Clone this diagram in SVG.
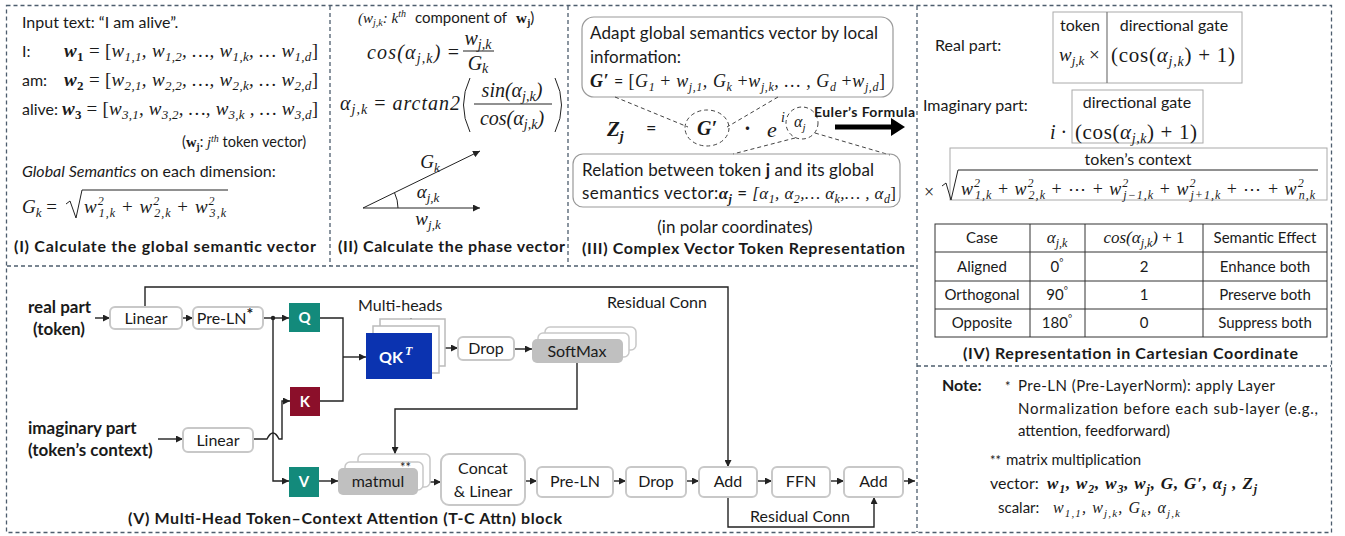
<svg xmlns="http://www.w3.org/2000/svg" width="1345" height="536" viewBox="0 0 1345 536">
<style>
.s{font-family:Lato,"Liberation Sans",sans-serif;fill:#1a1a1a}
.b{font-weight:bold}
.m{font-family:"Liberation Serif",serif;font-style:italic;fill:#1a1a1a}
.up{font-style:normal}
.bx{fill:#fff;stroke:#c8c8c8;stroke-width:2}
.cn{fill:none;stroke:#222;stroke-width:1.4}
.dash{fill:none;stroke:#4d5d6d;stroke-width:1.3;stroke-dasharray:4 3}
.thin{fill:none;stroke:#222;stroke-width:1}
.dd{fill:none;stroke:#444;stroke-width:1;stroke-dasharray:4 3}
.gb{fill:none;stroke:#aaa;stroke-width:1}
.wt{fill:#fff}
</style>
<defs>
<marker id="ah" viewBox="0 0 8 8" refX="8" refY="4" markerWidth="7" markerHeight="7" markerUnits="userSpaceOnUse" orient="auto"><path d="M0,0 L8,4 L0,8 z" fill="#222"/></marker>
</defs>
<rect width="1345" height="536" fill="#fff"/>
<g id="frames">
<rect class="dash" x="6.5" y="5.5" width="1325" height="527"/>
<path class="dash" d="M330,6 V266 M568,6 V266 M917,6 V532 M7,266 H917 M917,366 H1331"/>
</g>

<g id="panel-I">
<text class="s" x="22" y="28" font-size="16">Input text: “I am alive”.</text>
<text class="s" x="22" y="57" font-size="16">I:</text>
<text class="m" x="64" y="57" font-size="19" textLength="254"><tspan class="b">w</tspan><tspan class="b up" font-size="13" dy="4">1</tspan><tspan class="up" dy="-4"> = [</tspan>w<tspan font-size="13" dy="4">1,1</tspan><tspan dy="-4">, w</tspan><tspan font-size="13" dy="4">1,2</tspan><tspan dy="-4">, …, w</tspan><tspan font-size="13" dy="4">1,k</tspan><tspan dy="-4">, … w</tspan><tspan font-size="13" dy="4">1,d</tspan><tspan class="up" dy="-4">]</tspan></text>
<text class="s" x="22" y="86" font-size="16">am:</text>
<text class="m" x="64" y="86" font-size="19" textLength="254"><tspan class="b">w</tspan><tspan class="b up" font-size="13" dy="4">2</tspan><tspan class="up" dy="-4"> = [</tspan>w<tspan font-size="13" dy="4">2,1</tspan><tspan dy="-4">, w</tspan><tspan font-size="13" dy="4">2,2</tspan><tspan dy="-4">, …, w</tspan><tspan font-size="13" dy="4">2,k</tspan><tspan dy="-4">, … w</tspan><tspan font-size="13" dy="4">2,d</tspan><tspan class="up" dy="-4">]</tspan></text>
<text class="s" x="22" y="115" font-size="16">alive:</text>
<text class="m" x="62" y="115" font-size="19" textLength="256"><tspan class="b">w</tspan><tspan class="b up" font-size="13" dy="4">3</tspan><tspan class="up" dy="-4"> = [</tspan>w<tspan font-size="13" dy="4">3,1</tspan><tspan dy="-4">, w</tspan><tspan font-size="13" dy="4">3,2</tspan><tspan dy="-4">, …, w</tspan><tspan font-size="13" dy="4">3,k</tspan><tspan dy="-4"> , … w</tspan><tspan font-size="13" dy="4">3,d</tspan><tspan class="up" dy="-4">]</tspan></text>
<text class="s" x="182" y="147" font-size="14.5">(<tspan font-family="Liberation Serif,serif" font-weight="bold">w</tspan><tspan font-family="Liberation Serif,serif" font-weight="bold" font-size="10" dy="3">j</tspan><tspan dy="-3">: </tspan><tspan class="m">j</tspan><tspan class="m" font-size="10" dy="-5">th</tspan><tspan dy="5"> token vector)</tspan></text>
<text class="s" x="22" y="177" font-size="16"><tspan font-style="italic">Global Semantics</tspan> on each dimension:</text>
<text class="m" x="22" y="213" font-size="19">G<tspan font-size="13" dy="4">k</tspan><tspan class="up" dy="-4"> =</tspan></text>
<path class="thin" d="M66,204 L70,201 L76,218 L82,190 H228"/>
<text class="m" x="84" y="213" font-size="19" textLength="142">w<tspan font-size="12" dy="-8">2</tspan><tspan font-size="12" dx="-6" dy="12">1,k</tspan><tspan class="up" dy="-4"> + </tspan>w<tspan font-size="12" dy="-8">2</tspan><tspan font-size="12" dx="-6" dy="12">2,k</tspan><tspan class="up" dy="-4"> + </tspan>w<tspan font-size="12" dy="-8">2</tspan><tspan font-size="12" dx="-6" dy="12">3,k</tspan></text>
<text class="s b" x="14" y="252" font-size="16" textLength="302">(I) Calculate the global semantic vector</text>
</g>

<g id="panel-II">
<text class="s" x="358" y="23" font-size="15"><tspan class="m">(w</tspan><tspan class="m" font-size="10" dy="3">j,k</tspan><tspan class="m" dy="-3">: k</tspan><tspan class="m" font-size="10" dy="-6">th</tspan><tspan dy="6" dx="9">component of</tspan><tspan dx="9" font-family="Liberation Serif,serif" font-weight="bold">w</tspan><tspan font-family="Liberation Serif,serif" font-weight="bold" font-size="10" dy="3">j</tspan><tspan dy="-3">)</tspan></text>
<text class="m" x="367" y="59" font-size="20" textLength="92">cos(α<tspan font-size="14" dy="4">j,k</tspan><tspan dy="-4">) </tspan><tspan class="up">=</tspan></text>
<text class="m" x="478" y="45" font-size="20" text-anchor="middle">w<tspan font-size="14" dy="4">j,k</tspan></text>
<path class="thin" d="M463,51 H494"/>
<text class="m" x="478" y="70" font-size="20" text-anchor="middle">G<tspan font-size="14" dy="3">k</tspan></text>
<text class="m" x="340" y="110" font-size="20" textLength="120">α<tspan font-size="14" dy="4">j,k</tspan><tspan class="up" dy="-4"> = </tspan>arctan2</text>
<path class="thin" d="M470,78 Q457,105 470,132 M555,78 Q568,105 555,132"/>
<text class="m" x="512" y="97" font-size="20" text-anchor="middle">sin(α<tspan font-size="14" dy="4">j,k</tspan><tspan dy="-4">)</tspan></text>
<path class="thin" d="M474,104 H552"/>
<text class="m" x="512" y="125" font-size="20" text-anchor="middle">cos(α<tspan font-size="14" dy="4">j,k</tspan><tspan dy="-4">)</tspan></text>
<path class="thin" d="M363,208 L480,151" stroke="#555" marker-end="url(#ah)"/>
<path class="thin" d="M363,208 H480" marker-end="url(#ah)"/>
<path class="thin" d="M394.5,192.7 A35,35 0 0 1 398,208"/>
<text class="m" x="430" y="168" font-size="19" text-anchor="middle">G<tspan font-size="13" dy="4">k</tspan></text>
<text class="m" x="428" y="198" font-size="19" text-anchor="middle">α<tspan font-size="13" dy="4">j,k</tspan></text>
<text class="m" x="428" y="225" font-size="19" text-anchor="middle">w<tspan font-size="13" dy="4">j,k</tspan></text>
<text class="s b" x="338" y="252" font-size="16" textLength="227">(II) Calculate the phase vector</text>
</g>

<g id="panel-III">
<rect x="582" y="17" width="311" height="80" rx="12" fill="none" stroke="#999" stroke-width="1.2"/>
<text class="s" x="590" y="39" font-size="17" textLength="288">Adapt global semantics vector by local</text>
<text class="s" x="590" y="63" font-size="17">information:</text>
<text class="m" x="590" y="87" font-size="18" textLength="295"><tspan class="b">G′</tspan><tspan class="s up" font-size="16"> = </tspan><tspan class="up">[</tspan>G<tspan font-size="12" dy="4">1</tspan><tspan class="up" dy="-4"> + </tspan>w<tspan font-size="12" dy="4">j,1</tspan><tspan dy="-4">, G</tspan><tspan font-size="12" dy="4">k</tspan><tspan class="up" dy="-4"> +</tspan>w<tspan font-size="12" dy="4">j,k</tspan><tspan dy="-4">, … , G</tspan><tspan font-size="12" dy="4">d</tspan><tspan class="up" dy="-4"> +</tspan>w<tspan font-size="12" dy="4">j,d</tspan><tspan class="up" dy="-4">]</tspan></text>
<path class="dd" d="M615,97 L688,127 M778,97 L727,127 M795,138 L733,154 M815,133 L890,155"/>
<text class="m b" x="607" y="136" font-size="21">Z<tspan font-size="14" dy="5">j</tspan></text>
<text class="s" x="646" y="134" font-size="18">=</text>
<ellipse class="dd" cx="707" cy="128" rx="22" ry="18"/>
<text class="m b" x="707" y="135" font-size="20" text-anchor="middle">G′</text>
<text class="s b" x="745" y="134" font-size="18">·</text>
<text class="m" x="767" y="137" font-size="22">e</text>
<text class="m" x="781" y="122" font-size="14">i</text>
<ellipse class="dd" cx="802" cy="123" rx="16" ry="16"/>
<text class="m" x="794" y="127" font-size="16">α<tspan font-size="11" dy="4">j</tspan></text>
<text class="s b" x="814" y="117" font-size="14" textLength="101">Euler’s Formula</text>
<path d="M835,127 H893" stroke="#000" stroke-width="5"/>
<path d="M891,118 L905,127 L891,136 z" fill="#000"/>
<rect x="573" y="154" width="327" height="53" rx="10" fill="none" stroke="#999" stroke-width="1.2"/>
<text class="s" x="582" y="176" font-size="17" textLength="292">Relation between token <tspan class="b">j</tspan> and its global</text>
<text class="s" x="582" y="199" font-size="17" textLength="314">semantics vector:<tspan class="m b">α</tspan><tspan class="m b" font-size="12" dy="4">j</tspan><tspan dy="-4"> = </tspan><tspan class="m">[α</tspan><tspan class="m" font-size="12" dy="4">1</tspan><tspan class="m" dy="-4">, α</tspan><tspan class="m" font-size="12" dy="4">2</tspan><tspan class="m" dy="-4">,… α</tspan><tspan class="m" font-size="12" dy="4">k</tspan><tspan class="m" dy="-4">,… , α</tspan><tspan class="m" font-size="12" dy="4">d</tspan><tspan class="m up" dy="-4">]</tspan></text>
<text class="s" x="735" y="233" font-size="17" text-anchor="middle">(in polar coordinates)</text>
<text class="s b" x="582" y="254" font-size="16" textLength="323">(III) Complex Vector Token Representation</text>
</g>

<g id="panel-IV">
<text class="s" x="935" y="51" font-size="16">Real part:</text>
<rect class="gb" x="1053" y="12" width="189" height="71"/>
<path d="M1107,12 V83" stroke="#777" stroke-width="1.2"/>
<text class="s" x="1080" y="31" font-size="16" text-anchor="middle">token</text>
<text class="s" x="1174" y="31" font-size="16" text-anchor="middle">directional gate</text>
<text class="m" x="1059" y="61" font-size="19">w<tspan font-size="13" dy="4">j,k</tspan><tspan class="up" dy="-4"> ×</tspan></text>
<text class="m up" x="1111" y="62" font-size="21" textLength="124">(cos(<tspan font-style="italic">α</tspan><tspan font-style="italic" font-size="14" dy="4">j,k</tspan><tspan dy="-4">) + 1)</tspan></text>
<text class="s" x="923" y="111" font-size="16">Imaginary part:</text>
<rect class="gb" x="1072" y="90" width="131" height="53"/>
<text class="s" x="1137" y="108" font-size="16" text-anchor="middle">directional gate</text>
<text class="m" x="1050" y="139" font-size="20">i <tspan class="up">·</tspan></text>
<text class="m up" x="1075" y="139" font-size="21" textLength="122">(cos(<tspan font-style="italic">α</tspan><tspan font-style="italic" font-size="14" dy="4">j,k</tspan><tspan dy="-4">) + 1)</tspan></text>
<rect class="gb" x="950" y="148" width="377" height="52"/>
<text class="s" x="1138" y="165" font-size="16" text-anchor="middle">token’s context</text>
<text class="m up" x="924" y="198" font-size="18">×</text>
<path class="thin" d="M942,186 L946,183 L951,200 L958,170 H1318"/>
<text class="m" x="961" y="195" font-size="18" textLength="354">w<tspan font-size="12" dy="-8">2</tspan><tspan font-size="12" dx="-6" dy="12">1,k</tspan><tspan class="up" dy="-4"> + </tspan>w<tspan font-size="12" dy="-8">2</tspan><tspan font-size="12" dx="-6" dy="12">2,k</tspan><tspan class="up" dy="-4"> + ⋯ + </tspan>w<tspan font-size="12" dy="-8">2</tspan><tspan font-size="12" dx="-6" dy="12">j−1,k</tspan><tspan class="up" dy="-4"> + </tspan>w<tspan font-size="12" dy="-8">2</tspan><tspan font-size="12" dx="-6" dy="12">j+1,k</tspan><tspan class="up" dy="-4"> + ⋯ + </tspan>w<tspan font-size="12" dy="-8">2</tspan><tspan font-size="12" dx="-6" dy="12">n,k</tspan></text>
<g id="table">
<rect x="935" y="224" width="392" height="113" fill="none" stroke="#333" stroke-width="1"/>
<path d="M935,252 H1327 M935,281 H1327 M935,309 H1327 M1030,224 V337 M1085,224 V337 M1203,224 V337" stroke="#333" stroke-width="1"/>
<g class="s" font-size="15" text-anchor="middle">
<text x="982" y="243">Case</text>
<text x="1265" y="243">Semantic Effect</text>
<text x="982" y="272">Aligned</text>
<text x="982" y="300">Orthogonal</text>
<text x="982" y="328">Opposite</text>
<text x="1144" y="272">2</text>
<text x="1144" y="300">1</text>
<text x="1144" y="328">0</text>
<text x="1265" y="272">Enhance both</text>
<text x="1265" y="300">Preserve both</text>
<text x="1265" y="328">Suppress both</text>
<text x="1057" y="272">0<tspan font-size="10" dy="-6">°</tspan></text>
<text x="1057" y="300">90<tspan font-size="10" dy="-6">°</tspan></text>
<text x="1057" y="328">180<tspan font-size="10" dy="-6">°</tspan></text>
</g>
<text class="m" x="1057" y="243" font-size="17" text-anchor="middle">α<tspan font-size="12" dy="4">j,k</tspan></text>
<text class="m" x="1144" y="243" font-size="17" text-anchor="middle">cos(α<tspan font-size="12" dy="4">j,k</tspan><tspan dy="-4">) </tspan><tspan class="up">+ 1</tspan></text>
</g>
<text class="s b" x="963" y="359" font-size="16" textLength="335">(IV) Representation in Cartesian Coordinate</text>
</g>

<g id="notes">
<text class="s b" x="942" y="391" font-size="16">Note:</text>
<text class="s" x="1005" y="391" font-size="13">*</text>
<text class="s" x="1018" y="391" font-size="15" textLength="257">Pre-LN (Pre-LayerNorm): apply Layer</text>
<text class="s" x="1018" y="414" font-size="15" textLength="300">Normalization before each sub-layer (e.g.,</text>
<text class="s" x="1018" y="436" font-size="15">attention, feedforward)</text>
<text class="s" x="990" y="465" font-size="13">**</text>
<text class="s" x="1006" y="465" font-size="15">matrix multiplication</text>
<text class="s" x="990" y="489" font-size="16">vector:</text>
<text class="m b" x="1047" y="489" font-size="17" textLength="210">w<tspan font-size="12" dy="4">1</tspan><tspan dy="-4">, w</tspan><tspan font-size="12" dy="4">2</tspan><tspan dy="-4">, w</tspan><tspan font-size="12" dy="4">3</tspan><tspan dy="-4">, w</tspan><tspan font-size="12" dy="4">j</tspan><tspan dy="-4">, G, G′, α</tspan><tspan font-size="12" dy="4">j</tspan><tspan dy="-4"> , Z</tspan><tspan font-size="12" dy="4">j</tspan></text>
<text class="s" x="998" y="513" font-size="15">scalar:</text>
<text class="m" x="1053" y="513" font-size="16" textLength="127">w<tspan font-size="11" dy="4">1,1</tspan><tspan dy="-4">, w</tspan><tspan font-size="11" dy="4">j,k</tspan><tspan dy="-4">, G</tspan><tspan font-size="11" dy="4">k</tspan><tspan dy="-4">, α</tspan><tspan font-size="11" dy="4">j,k</tspan></text>
</g>

<g id="connectors">
<path class="cn" d="M95,318 H110" marker-end="url(#ah)"/>
<path class="cn" d="M182,318 H193" marker-end="url(#ah)"/>
<path class="cn" d="M263,318 H289" marker-end="url(#ah)"/>
<circle cx="273" cy="318" r="2.2" fill="#222"/>
<path class="cn" d="M273,318 V481 H289" marker-end="url(#ah)"/>
<path class="cn" d="M158,439 H183" marker-end="url(#ah)"/>
<path class="cn" d="M253,439 H267 Q273,427 279,439 H282 V401 H290" marker-end="url(#ah)"/>
<path class="cn" d="M320,318 H343 V401 H320"/>
<path class="cn" d="M343,357 H366" marker-end="url(#ah)"/>
<path class="cn" d="M445,348 H458" marker-end="url(#ah)"/>
<path class="cn" d="M514,349 H532" marker-end="url(#ah)"/>
<path class="cn" d="M577,363 V409 H395 V454" marker-end="url(#ah)"/>
<path class="cn" d="M319,481 H338" marker-end="url(#ah)"/>
<path class="cn" d="M423,482 H441" marker-end="url(#ah)"/>
<path class="cn" d="M525,481 H537" marker-end="url(#ah)"/>
<path class="cn" d="M613,481 H626" marker-end="url(#ah)"/>
<path class="cn" d="M686,481 H699" marker-end="url(#ah)"/>
<path class="cn" d="M757,481 H772" marker-end="url(#ah)"/>
<path class="cn" d="M830,481 H844" marker-end="url(#ah)"/>
<path class="cn" d="M903,481 H915" marker-end="url(#ah)"/>
<path class="cn" d="M145,307 V287 H728 V467" marker-end="url(#ah)"/>
<path class="cn" d="M728,497 V527 H874 V497" marker-end="url(#ah)"/>
<path class="thin" d="M400,331 V323 L408,322 L411,318 L414,322 L421,321 V326" stroke="#444"/>
</g>

<g id="panel-V-labels">
<text class="s b" x="28" y="313" font-size="17">real part</text>
<text class="s b" x="33" y="335" font-size="17">(token)</text>
<text class="s b" x="28" y="434" font-size="17">imaginary part</text>
<text class="s b" x="28" y="456" font-size="17">(token’s context)</text>
<text class="s" x="607" y="308" font-size="16">Residual Conn</text>
<text class="s" x="800" y="522" font-size="16" text-anchor="middle">Residual Conn</text>
<text class="s" x="358" y="311" font-size="16">Multi-heads</text>
<text class="s b" x="128" y="524" font-size="16" textLength="434">(V) Multi-Head Token–Context Attention (T-C Attn) block</text>
</g>

<g id="n-linear-real"><rect class="bx" x="110" y="307" width="72" height="22" rx="5"/><text class="s" x="146" y="324" font-size="16" text-anchor="middle">Linear</text></g>
<g id="n-preln1"><rect class="bx" x="193" y="307" width="70" height="22" rx="5"/><text class="s" x="225" y="324" font-size="16" text-anchor="middle">Pre-LN<tspan font-size="16" font-weight="bold" dy="-5">*</tspan></text></g>
<g id="n-q"><rect x="289" y="303" width="31" height="29" fill="#138a7b"/><text class="s b wt" x="304.5" y="323" font-size="15" text-anchor="middle">Q</text></g>
<g id="n-k"><rect x="290" y="387" width="30" height="29" fill="#8b0f2a"/><text class="s b wt" x="305" y="407" font-size="15" text-anchor="middle">K</text></g>
<g id="n-v"><rect x="289" y="467" width="30" height="30" fill="#138a7b"/><text class="s b wt" x="304" y="487" font-size="15" text-anchor="middle">V</text></g>
<g id="n-linear-imag"><rect class="bx" x="183" y="428" width="70" height="24" rx="5"/><text class="s" x="218" y="446" font-size="16" text-anchor="middle">Linear</text></g>
<g id="n-qk">
<rect x="380" y="319" width="65" height="47" fill="#fff" stroke="#bbb" stroke-width="1.5"/>
<rect x="373" y="326" width="66" height="47" fill="#fff" stroke="#bbb" stroke-width="1.5"/>
<rect x="366" y="333" width="66" height="46" fill="#0b33b0"/>
<text class="s b wt" x="391" y="363" font-size="16" text-anchor="middle">QK</text>
<text class="m b wt" x="405" y="355" font-size="12">T</text>
</g>
<g id="n-drop1"><rect class="bx" x="458" y="337" width="56" height="23" rx="5"/><text class="s" x="486" y="354" font-size="16" text-anchor="middle">Drop</text></g>
<g id="n-softmax">
<rect x="545" y="327" width="91" height="23" rx="5" fill="#fff" stroke="#c8c8c8" stroke-width="1.5"/>
<rect x="538" y="333" width="91" height="24" rx="5" fill="#fff" stroke="#c8c8c8" stroke-width="1.5"/>
<rect x="532" y="339" width="91" height="24" rx="5" fill="#c0c0c0"/>
<text class="s" x="577" y="357" font-size="16" text-anchor="middle">SoftMax</text>
</g>
<g id="n-matmul">
<rect x="358" y="454" width="72" height="33" rx="5" fill="#fff" stroke="#c8c8c8" stroke-width="1.5"/>
<rect x="345" y="462" width="78" height="28" rx="5" fill="#fff" stroke="#c8c8c8" stroke-width="1.5"/>
<rect x="338" y="468" width="80" height="27" rx="5" fill="#c0c0c0"/>
<text class="s" x="378" y="487" font-size="16" text-anchor="middle">matmul</text>
<text class="s" x="400" y="472" font-size="13">**</text>
</g>
<g id="n-concat"><rect class="bx" x="441" y="454" width="84" height="51" rx="8"/><text class="s" x="483" y="474" font-size="16" text-anchor="middle">Concat</text><text class="s" x="483" y="497" font-size="16" text-anchor="middle">&amp; Linear</text></g>
<g id="n-preln2"><rect class="bx" x="537" y="467" width="76" height="30" rx="5"/><text class="s" x="575" y="487" font-size="16" text-anchor="middle">Pre-LN</text></g>
<g id="n-drop2"><rect class="bx" x="626" y="467" width="60" height="30" rx="5"/><text class="s" x="656" y="487" font-size="16" text-anchor="middle">Drop</text></g>
<g id="n-add1"><rect class="bx" x="699" y="467" width="58" height="30" rx="5"/><text class="s" x="728" y="487" font-size="16" text-anchor="middle">Add</text></g>
<g id="n-ffn"><rect class="bx" x="772" y="467" width="58" height="30" rx="5"/><text class="s" x="801" y="487" font-size="16" text-anchor="middle">FFN</text></g>
<g id="n-add2"><rect class="bx" x="844" y="467" width="59" height="30" rx="5"/><text class="s" x="873.5" y="487" font-size="16" text-anchor="middle">Add</text></g>
</svg>
